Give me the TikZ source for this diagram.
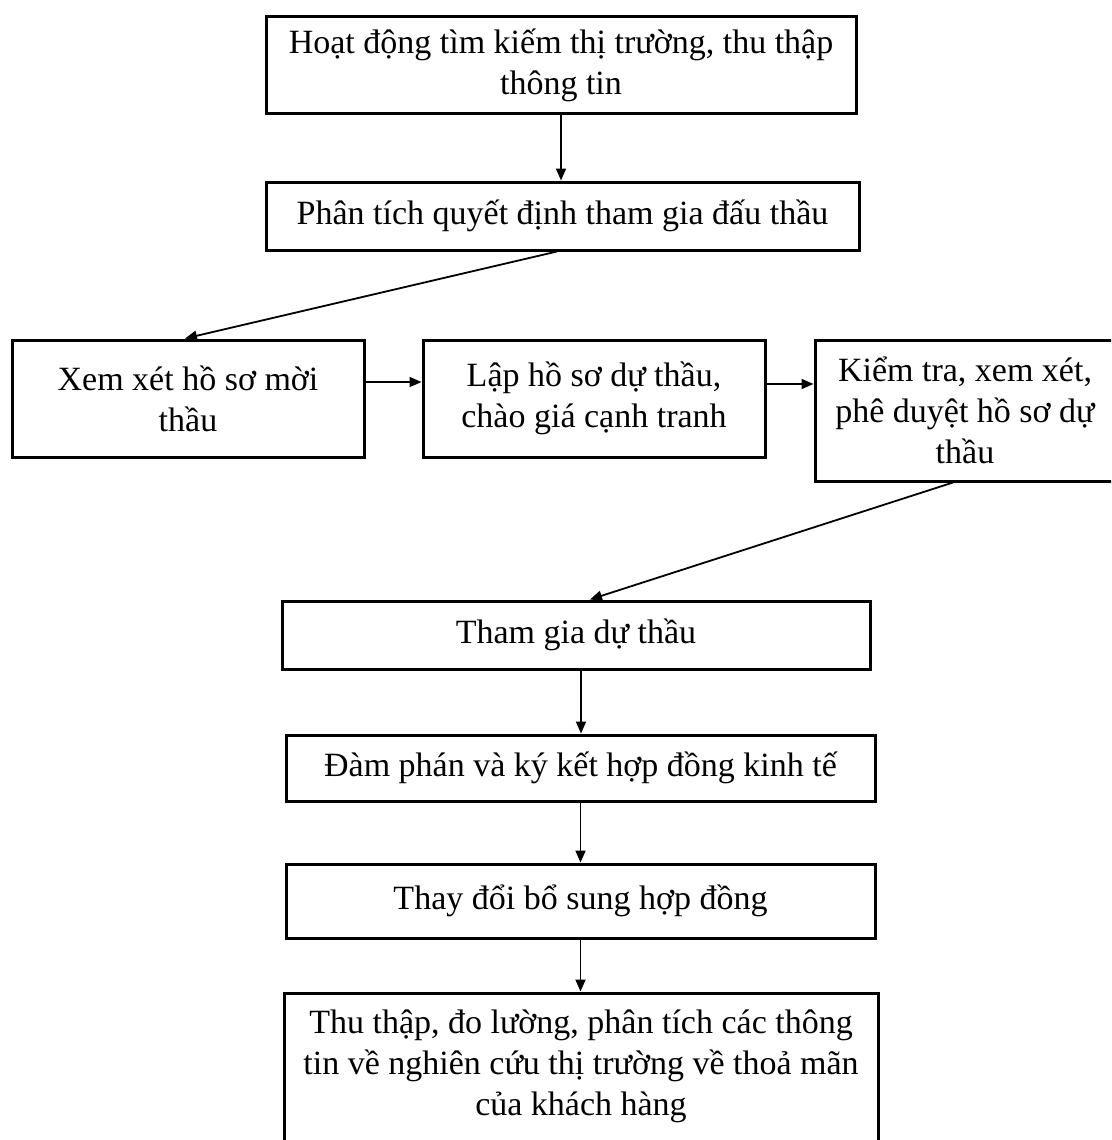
\documentclass[tikz,border=0pt]{standalone}
\usepackage{fontspec}
\setmainfont{Liberation Serif}
\usetikzlibrary{arrows.meta}
\begin{document}
\begin{tikzpicture}[x=1pt,y=-1pt,
  box/.style={draw, line width=3pt, align=center, inner sep=0pt,
    font=\fontsize{34}{41}\selectfont},
  conn/.style={line width=1.8pt, -{Triangle[length=12pt,width=10pt]}}]
\useasboundingbox (0,0) rectangle (1111,1140);
\clip (0,0) rectangle (1111,1140);
\node[box, minimum width=590, minimum height=96] (n1) at (561,65)
  {Hoạt động tìm kiếm thị trường, thu thập\\thông tin};
\node[box, minimum width=593, minimum height=68] (n2) at (562.5,216)
  {Phân tích quyết định tham gia đấu thầu};
\node[box, minimum width=352, minimum height=117] (n3) at (188,398.5)
  {Xem xét hồ sơ mời\\thầu};
\node[box, minimum width=342, minimum height=117] (n4) at (594,398.5)
  {Lập hồ sơ dự thầu,\\chào giá cạnh tranh};
\node[box, minimum width=300, minimum height=141] (n5) at (965,410.5)
  {Kiểm tra, xem xét,\\phê duyệt hồ sơ dự\\thầu};
\node[box, minimum width=588, minimum height=68] (n6) at (576,635)
  {Tham gia dự thầu};
\node[box, minimum width=589, minimum height=66] (n7) at (580.5,768)
  {Đàm phán và ký kết hợp đồng kinh tế};
\node[box, minimum width=589, minimum height=74] (n8) at (580.5,901)
  {Thay đổi bổ sung hợp đồng};
\node[box, minimum width=594, minimum height=180] (n9) at (581,1083)
  {Thu thập, đo lường, phân tích các thông\\tin về nghiên cứu thị trường về thoả mãn\\của khách hàng\\\mbox{}};
\draw[conn] (n1.south) -- (n1.south |- n2.north);
\draw[conn] ([xshift=-5.5pt]n2.south) -- ([xshift=-3pt]n3.north);
\draw[conn] ([yshift=16.5pt]n3.east) -- ([yshift=16.5pt]n3.east -| n4.west);
\draw[conn] ([yshift=14.5pt]n4.east) -- ([yshift=14.5pt]n4.east -| n5.west);
\draw[conn] ([xshift=-12pt]n5.south) -- ([xshift=14pt]n6.north);
\draw[conn] ([xshift=5pt]n6.south) -- ([xshift=5pt]n6.south |- n7.north);
\draw[conn] (n7.south) -- (n7.south |- n8.north);
\draw[conn] (n8.south) -- (n8.south |- n9.north);
\end{tikzpicture}
\end{document}
